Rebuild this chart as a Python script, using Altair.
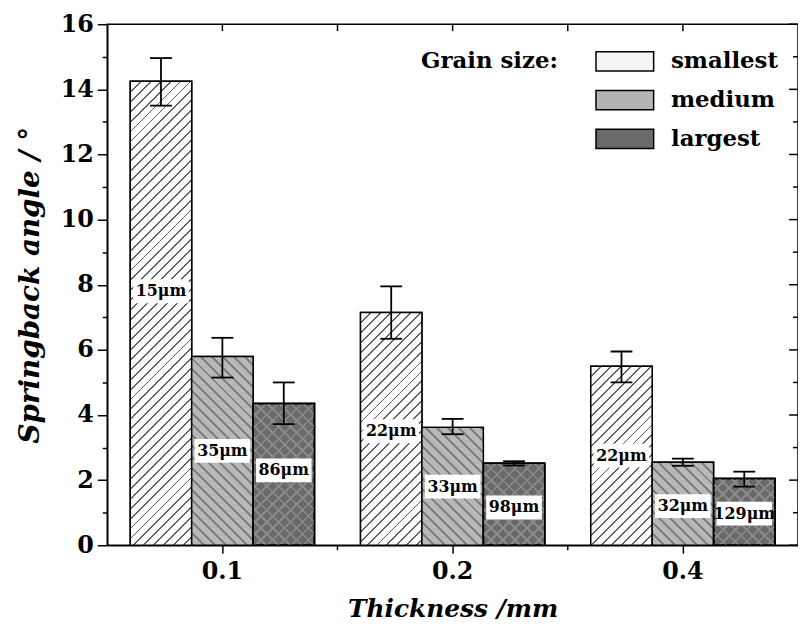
import altair as alt
import pandas as pd

# ---------------- data ----------------
thickness = ["0.1", "0.2", "0.4"]
grain_sizes = ["smallest", "medium", "largest"]

bar_group = ["0.1", "0.1", "0.1", "0.2", "0.2", "0.2", "0.4", "0.4", "0.4"]
bar_grain = ["smallest", "medium", "largest"] * 3
angle = [14.25, 5.8, 4.35, 7.15, 3.62, 2.52, 5.5, 2.55, 2.05]
err_low = [13.5, 5.15, 3.72, 6.34, 3.41, 2.45, 5.0, 2.44, 1.8]
err_high = [14.96, 6.37, 5.0, 7.95, 3.88, 2.58, 5.95, 2.66, 2.26]
grain_text = ["15μm", "35μm", "86μm", "22μm", "33μm", "98μm", "22μm", "32μm", "129μm"]
text_at = [7.8, 2.9, 2.3, 3.5, 1.8, 1.16, 2.75, 1.2, 0.97]

y_major = [0, 2, 4, 6, 8, 10, 12, 14, 16]
y_minor = [1, 3, 5, 7, 9, 11, 13, 15]
groups_before_gap = ["0.1", "0.2"]

df = pd.DataFrame({
    "group": bar_group, "grain": bar_grain, "angle": angle,
    "lo": err_low, "hi": err_high, "txt": grain_text, "ty": text_at,
})

# ---------------- style ----------------
SERIF = "DejaVu Serif"
W, H = 696, 525
YMAX = 16
legend_colors = ["#f4f4f4", "#b4b4b4", "#6a6a6a"]
CLEAR = "rgba(0,0,0,0)"

x_scale = alt.Scale(domain=thickness, paddingInner=0.2, paddingOuter=0.1)
xo_scale = alt.Scale(domain=grain_sizes, paddingInner=0, paddingOuter=0)
y_scale = alt.Scale(domain=[0, YMAX], nice=False)

x_axis = alt.Axis(
    title="Thickness /mm", labelAngle=0, labelFont=SERIF, labelFontWeight="bold",
    labelFontSize=24, labelColor="black", labelPadding=7, tickSize=8, tickWidth=1.5,
    tickColor="black", domainColor="black", domainWidth=1.5,
    titleFont=SERIF, titleFontStyle="italic", titleFontWeight="bold",
    titleFontSize=25, titleColor="black", titlePadding=13,
)
y_axis = alt.Axis(
    title="Springback angle / °", values=list(range(0, YMAX + 1)),
    labelExpr="datum.value % 2 == 0 ? datum.label : ''", labelOverlap=False,
    tickSize={"condition": {"test": "datum.value % 2 == 0", "value": 10}, "value": 5},
    tickWidth=1.5, tickColor="black", domainColor="black", domainWidth=1.5,
    grid=False, labelFont=SERIF, labelFontWeight="bold", labelFontSize=24,
    labelColor="black", labelPadding=4,
    titleFont=SERIF, titleFontStyle="italic", titleFontWeight="bold",
    titleFontSize=28, titleColor="black", titlePadding=16,
)

X = alt.X("group:N", scale=x_scale, axis=x_axis)
XEND = alt.X("group:N", scale=x_scale, axis=x_axis, bandPosition=1)
XO = alt.XOffset("grain:N", scale=xo_scale)


def Yf(field):
    return alt.Y(f"{field}:Q", scale=y_scale, axis=y_axis)


# base bars (carry the legend)
bars = alt.Chart(df).mark_bar(stroke="black", strokeWidth=1.5).encode(
    x=X, xOffset=XO, y=Yf("angle"),
    fill=alt.Fill("grain:N", scale=alt.Scale(domain=grain_sizes, range=legend_colors),
                  legend=alt.Legend(
                      title=None, orient="none", legendX=501, legendY=17, padding=0,
                      labelFont=SERIF, labelFontWeight="bold", labelFontSize=23,
                      labelColor="black", labelOffset=26,
                      symbolType="M-1.49,-0.5L1.49,-0.5L1.49,0.5L-1.49,0.5Z",
                      symbolSize=1521,
                      symbolStrokeColor="black", symbolStrokeWidth=1.5,
                      symbolOpacity=1, rowPadding=5)),
)


# hatch patterns drawn as striped linear gradients (one overlay per bar)
def hatch(w, h, direction, bg, fg, period, lw):
    S = w + h
    if direction == "/":
        qx, qy, p1 = w / S, h / S, (0.0, 0.0)
    else:
        qx, qy, p1 = w / S, -h / S, (0.0, 1.0)
    n2 = qx * qx + qy * qy
    p2 = (p1[0] + qx / n2, p1[1] + qy / n2)
    stops = []
    s = 0.0
    while s < S:
        a = s / S
        b = min((s + lw) / S, 1.0)
        c = min((s + period) / S, 1.0)
        stops += [{"color": fg, "offset": a}, {"color": fg, "offset": b},
                  {"color": bg, "offset": b}, {"color": bg, "offset": c}]
        s += period
    return {"gradient": "linear", "x1": p1[0], "y1": p1[1], "x2": p2[0], "y2": p2[1],
            "stops": stops}


bar_w = W / 3 * 0.8 / 3
patterns = {
    "smallest": [("/", "#ffffff", "#606060", 10.0, 1.9)],
    "medium": [("\\", "#b8b8b8", "#808080", 11.0, 3.0)],
    "largest": [("/", CLEAR, "#8a8a8a", 12.0, 2.5), ("\\", CLEAR, "#8a8a8a", 12.0, 2.5)],
}
overlays = []
for i, row in df.iterrows():
    h = row["angle"] / YMAX * H
    for d, bg, fg, per, lw in patterns[row["grain"]]:
        overlays.append(
            alt.Chart(df.iloc[[i]]).mark_bar(
                fill=hatch(bar_w, h, d, bg, fg, per, lw), stroke="black", strokeWidth=1.5
            ).encode(x=X, xOffset=XO, y=Yf("angle"))
        )

# white boxes behind the grain-size labels
boxes = alt.Chart(df).mark_tick(orient="horizontal", size=56, thickness=24,
                                color="white", opacity=1).encode(x=X, xOffset=XO, y=Yf("ty"))
labels = alt.Chart(df).mark_text(font=SERIF, fontWeight="bold", fontSize=16,
                                 color="black").encode(x=X, xOffset=XO, y=Yf("ty"), text="txt:N")

# error bars
err_rule = alt.Chart(df).mark_rule(color="black", strokeWidth=1.8).encode(
    x=X, xOffset=XO, y=Yf("lo"), y2="hi:Q")
cap_lo = alt.Chart(df).mark_tick(orient="horizontal", size=22, thickness=1.8,
                                 color="black", opacity=1).encode(x=X, xOffset=XO, y=Yf("lo"))
cap_hi = alt.Chart(df).mark_tick(orient="horizontal", size=22, thickness=1.8,
                                 color="black", opacity=1).encode(x=X, xOffset=XO, y=Yf("hi"))

# frame ticks: right side (inward), top side (inward), bottom minor ticks between groups
gap_shift = W / 3 * 0.1
right_major = alt.Chart(pd.DataFrame({"v": y_major})).mark_tick(
    orient="horizontal", size=9, thickness=1.5, color="black", opacity=1
).encode(y=Yf("v"), x=alt.value(W - 4.5))
right_minor = alt.Chart(pd.DataFrame({"v": y_minor})).mark_tick(
    orient="horizontal", size=5, thickness=1.5, color="black", opacity=1
).encode(y=Yf("v"), x=alt.value(W - 2.5))
top_center = alt.Chart(pd.DataFrame({"group": thickness})).mark_tick(
    orient="vertical", size=7, thickness=1.5, color="black", opacity=1
).encode(x=X, y=alt.value(3.5))
top_gap = alt.Chart(pd.DataFrame({"group": groups_before_gap})).mark_tick(
    orient="vertical", size=7, thickness=1.5, color="black", opacity=1, xOffset=gap_shift
).encode(x=XEND, y=alt.value(3.5))
bottom_gap = alt.Chart(pd.DataFrame({"group": groups_before_gap})).mark_tick(
    orient="vertical", size=5, thickness=1.5, color="black", opacity=1, xOffset=gap_shift
).encode(x=XEND, y=alt.value(H + 2.5))

# legend caption
caption = alt.Chart(pd.DataFrame({"t": ["Grain size:"]})).mark_text(
    align="right", baseline="middle", font=SERIF, fontWeight="bold", fontSize=23,
    color="black").encode(text="t:N", x=alt.value(454), y=alt.value(37))

chart = alt.layer(
    bars, *overlays, boxes, labels, err_rule, cap_lo, cap_hi,
    right_major, right_minor, top_center, top_gap, bottom_gap, caption
).properties(
    width=W, height=H, padding={"left": 8, "top": 2, "right": 0, "bottom": 0}
).configure(background="white", view=alt.ViewConfig(stroke="black", strokeWidth=1.5))

chart.save("out.html", embed_options={"renderer": "svg", "actions": False})
